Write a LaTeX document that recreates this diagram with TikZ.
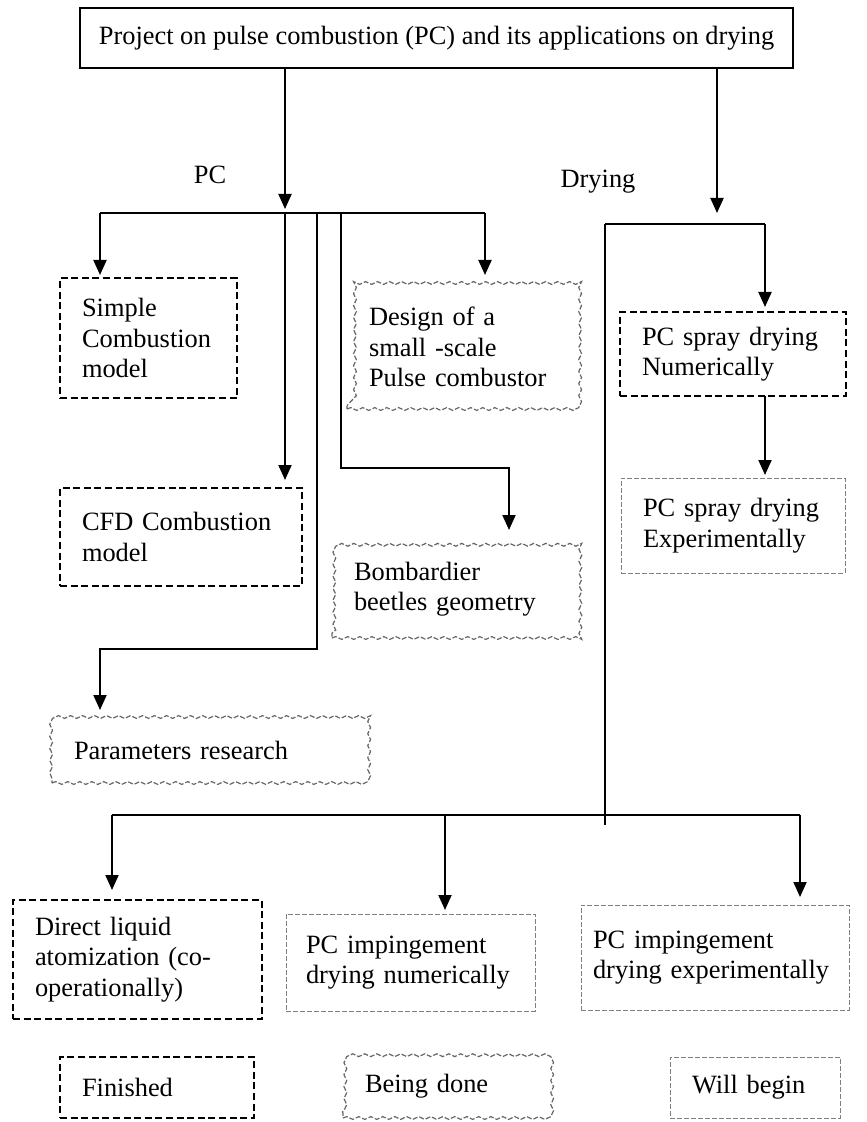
\documentclass[tikz,border=0pt]{standalone}
\usepackage{fontspec}
\setmainfont{Liberation Serif}
\usetikzlibrary{arrows.meta,decorations.pathmorphing}

\tikzset{
    % Common task box
    taskbox/.style={
        rectangle,
        anchor=north west,
        align=left,
        inner xsep=11pt,
        inner ysep=0pt,
        outer sep=0pt,
        font=\fontsize{13.2}{15.3}\selectfont
    },
    % Finished task
    finbox/.style={
        taskbox,
        draw=black,
        line width=1.1pt,
        dash pattern=on 3.5pt off 1.8pt
    },
    % Task being done
    donebox/.style={
        taskbox,
        draw=black!60,
        line width=0.6pt,
        dash pattern=on 2.5pt off 1pt,
        decorate,
        decoration={snake, amplitude=0.7pt, segment length=6pt}
    },
    % Task that will begin
    nextbox/.style={
        taskbox,
        draw=black!50,
        line width=0.5pt,
        dash pattern=on 2.5pt off 1pt
    },
    % Connectors
    link/.style={line width=1pt, black},
    arr/.style={link, -{Triangle[width=6.5pt,length=7.5pt]}},
    lbl/.style={font=\fontsize{13.2}{15.3}\selectfont, inner sep=0pt}
}

\begin{document}
\begin{tikzpicture}[x=0.5pt,y=-0.5pt]
    \useasboundingbox (0,0) rectangle (866,1122);

    % project
    \node[draw, line width=1pt, minimum width=356.5pt, minimum height=30pt, inner sep=0pt, font=\fontsize{13.2}{15.3}\selectfont] (proj) at (436.5,38) {Project on pulse combustion (PC) and its applications on drying};
    \node[lbl, anchor=base] (pclbl) at (210,184) {PC};
    \node[lbl, anchor=base] (drylbl) at (598,188) {Drying};

    % PC tasks
    \node[finbox, text width=66.5pt, minimum height=60pt] (simple) at (60,278) {Simple\\Combustion\\model};
    \node[donebox, text width=92.5pt, minimum height=62pt] (design) at (347,285) {Design of a\\small -scale\\Pulse combustor};
    \node[finbox, text width=99pt, minimum height=49pt] (cfd) at (60,488) {CFD Combustion\\model};
    \node[donebox, text width=100pt, minimum height=49pt] (beetle) at (332,540) {Bombardier\\beetles geometry};
    \node[donebox, text width=135.5pt, minimum height=33pt] (param) at (52,717) {Parameters research};

    % drying tasks
    \node[finbox, text width=91pt, minimum height=42pt] (sprayn) at (620,312) {PC spray drying\\Numerically};
    \node[nextbox, text width=90pt, minimum height=47.5pt] (sprayx) at (621,478) {PC spray drying\\Experimentally};
    \node[finbox, text width=102.5pt, minimum height=59.5pt] (direct) at (13,900) {Direct liquid\\atomization (co-\\operationally)};
    \node[nextbox, inner xsep=10pt, text width=104.5pt, minimum height=48.5pt] (impn) at (286,914) {PC impingement\\drying numerically};
    \node[nextbox, inner xsep=6pt, text width=122pt, minimum height=52.5pt] (impx) at (581,905) {PC impingement\\drying experimentally};

    % legend
    \node[finbox, text width=75pt, minimum height=30.5pt] (fin) at (60,1057) {Finished};
    \node[donebox, text width=80pt, minimum height=31.5pt] (doing) at (343,1055) {Being done};
    \node[nextbox, text width=63pt, minimum height=30.5pt] (todo) at (670,1057) {Will begin};

    % junctions
    \coordinate (pcJ) at (285,213);
    \coordinate (pcL) at (100,213);
    \coordinate (pcR) at (485,213);
    \coordinate (pcA) at (317,213);
    \coordinate (pcAc) at (100,649);
    \coordinate (pcB) at (341,213);
    \coordinate (pcBc) at (509,468);
    \coordinate (dJ) at (717,224);
    \coordinate (dL) at (605,224);
    \coordinate (dR) at (765,224);
    \coordinate (dEnd) at (605,825);
    \coordinate (bL) at (112,815);
    \coordinate (bM) at (445,815);
    \coordinate (bR) at (800,815);

    \draw[arr, shorten >=2pt] (pcJ |- proj.south) -- (pcJ);
    \draw[arr, shorten >=5.5pt] (dJ |- proj.south) -- (dJ);

    \draw[link] (pcL) -- (pcR);
    \draw[arr, shorten >=1.5pt] (pcL) -- (pcL |- simple.north);
    \draw[arr, shorten >=5pt] (pcR) -- (pcR |- design.north);
    \draw[arr, shorten >=4pt] (pcJ) -- (pcJ |- cfd.north);
    \draw[arr, shorten >=3.5pt] (pcA) |- (pcAc) -- (pcAc |- param.north);
    \draw[arr, shorten >=5pt] (pcB) |- (pcBc) -- (pcBc |- beetle.north);

    \draw[link] (dL) -- (dR);
    \draw[arr, shorten >=2.5pt] (dR) -- (dR |- sprayn.north);
    \draw[arr, shorten >=1.5pt] (dR |- sprayn.south) -- (dR |- sprayx.north);
    \draw[link] (dL) -- (dEnd);

    \draw[link] (bL) -- (bR);
    \draw[arr, shorten >=5pt] (bL) -- (bL |- direct.north);
    \draw[arr, shorten >=2pt] (bM) -- (bM |- impn.north);
    \draw[arr, shorten >=4pt] (bR) -- (bR |- impx.north);
\end{tikzpicture}
\end{document}
